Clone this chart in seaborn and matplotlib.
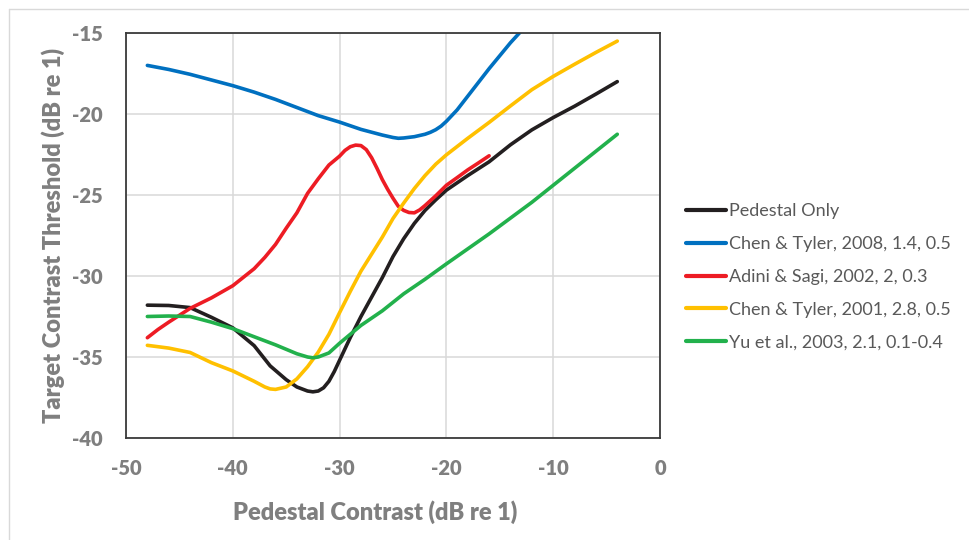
import matplotlib
matplotlib.use("Agg")
import matplotlib.pyplot as plt
from matplotlib.lines import Line2D
import seaborn as sns
import pandas as pd

# ---- data ----
series_names = ["Pedestal Only", "Chen & Tyler, 2008, 1.4, 0.5", "Adini & Sagi, 2002, 2, 0.3",
                "Chen & Tyler, 2001, 2.8, 0.5", "Yu et al., 2003, 2.1, 0.1-0.4"]
series_colors = ["#231F20", "#0070C0", "#ED1C24", "#FFC000", "#22B14C"]

pedestal_x = [-48, -46, -44, -42, -40, -38, -36.5, -35, -34, -33, -32.5, -32, -31.5, -31, -30.5, -30,
              -29, -28, -27, -26, -25, -24, -23, -22, -21, -20, -18, -16, -14, -12, -10, -8, -6, -4]
pedestal_y = [-31.8, -31.82, -31.95, -32.55, -33.2, -34.3, -35.55, -36.4, -36.85, -37.1, -37.15, -37.1,
              -36.9, -36.5, -35.9, -35.2, -33.8, -32.5, -31.3, -30.1, -28.8, -27.7, -26.75, -25.95,
              -25.3, -24.7, -23.8, -22.95, -21.9, -20.98, -20.22, -19.52, -18.77, -18.0]

chen08_x = [-48, -46, -44, -42, -40, -38, -36, -34, -32, -30, -28, -26, -25, -24.5, -24, -23, -22,
            -21.5, -21, -20.5, -20, -19, -18, -17, -16, -15, -14, -13, -12]
chen08_y = [-17.0, -17.25, -17.55, -17.9, -18.25, -18.65, -19.1, -19.6, -20.1, -20.5, -20.95, -21.3,
            -21.45, -21.5, -21.48, -21.4, -21.25, -21.13, -20.97, -20.75, -20.45, -19.75, -18.9,
            -18.05, -17.2, -16.4, -15.6, -14.88, -14.0]

adini_x = [-48, -47, -46, -44, -42, -40, -38, -37, -36, -35, -34, -33, -32, -31, -30, -29.5, -29, -28.5,
           -28, -27.5, -27, -26.5, -26, -25.5, -25, -24.5, -24, -23.5, -23, -22.5, -22, -21, -20, -19,
           -18, -17, -16]
adini_y = [-33.81, -33.3, -32.85, -32.0, -31.35, -30.6, -29.55, -28.85, -28.05, -27.05, -26.1, -24.9,
           -24.0, -23.15, -22.6, -22.25, -22.02, -21.92, -21.95, -22.2, -22.7, -23.35, -24.05, -24.65,
           -25.2, -25.7, -25.95, -26.08, -26.1, -25.92, -25.65, -25.05, -24.4, -23.93, -23.45, -23.02,
           -22.58]

chen01_x = [-48, -46, -44, -42, -40, -38, -37, -36.5, -36, -35, -34, -33, -32, -31, -30, -29, -28, -27,
            -26, -25, -24, -23, -22, -21, -20, -18, -16, -14, -12, -10, -8, -6, -4]
chen01_y = [-34.28, -34.45, -34.72, -35.35, -35.86, -36.5, -36.85, -36.97, -37.0, -36.85, -36.35,
            -35.6, -34.7, -33.6, -32.26, -30.95, -29.7, -28.65, -27.6, -26.45, -25.5, -24.6, -23.8,
            -23.1, -22.52, -21.5, -20.52, -19.5, -18.5, -17.68, -16.93, -16.2, -15.5]

yu_x = [-48, -46, -44, -42, -40, -38, -36, -34, -33, -32.5, -32, -31, -30, -28, -26, -24, -22, -20,
        -16, -12, -8, -4]
yu_y = [-32.5, -32.47, -32.5, -32.85, -33.25, -33.75, -34.25, -34.8, -35.0, -35.05, -35.0, -34.75,
        -34.15, -33.05, -32.15, -31.1, -30.2, -29.25, -27.4, -25.45, -23.35, -21.25]

x_ticks = [-50, -40, -30, -20, -10, 0]
y_ticks = [-40, -35, -30, -25, -20, -15]
x_label = "Pedestal Contrast (dB re 1)"
y_label = "Target Contrast Threshold (dB re 1)"

# ---- build long table ----
frames = []
for name, xs, ys in zip(series_names,
                        [pedestal_x, chen08_x, adini_x, chen01_x, yu_x],
                        [pedestal_y, chen08_y, adini_y, chen01_y, yu_y]):
    frames.append(pd.DataFrame({"x": xs, "y": ys, "series": name}))
df = pd.concat(frames, ignore_index=True)

sns.set_style("white")
plt.rcParams["font.family"] = ["Lato", "DejaVu Sans"]
plt.rcParams["axes.unicode_minus"] = False

fig = plt.figure(figsize=(9.69, 5.40), dpi=100)
W, H = 969, 540
ax = fig.add_axes([126 / W, 1 - 438 / H, (660 - 126) / W, (438 - 33) / H])

sns.lineplot(data=df, x="x", y="y", hue="series", hue_order=series_names,
             palette=dict(zip(series_names, series_colors)), sort=False, estimator=None,
             units="series", linewidth=2.6, ax=ax, legend=True)

ax.set_xlim(-50, 0)
ax.set_ylim(-40, -15)
ax.set_xticks(x_ticks)
ax.set_yticks(y_ticks)
ax.grid(True, color="#D9D9D9", linewidth=1.1)
ax.set_axisbelow(True)
for s in ax.spines.values():
    s.set_visible(True)
    s.set_color("#3A3A3A")
    s.set_linewidth(1.3)
ax.tick_params(axis="both", length=0, labelsize=14.5, labelcolor="#7F7F7F")
ax.tick_params(axis="x", pad=15)
ax.tick_params(axis="y", pad=17)
for lab in ax.get_xticklabels() + ax.get_yticklabels():
    lab.set_fontweight("heavy")

ax.set_xlabel(x_label, fontsize=17, fontweight="heavy", color="#7F7F7F")
ax.set_ylabel(y_label, fontsize=17, fontweight="heavy", color="#7F7F7F")
ax.xaxis.set_label_coords((375 - 126) / (660 - 126), -(500 - 438) / (438 - 33))
ax.yaxis.set_label_coords(-(126 - 65) / (660 - 126), 0.5)

handles, labels = ax.get_legend_handles_labels()
ax.legend(handles, labels, loc="center left", bbox_to_anchor=(686 / W, 1 - 277 / H),
          bbox_transform=fig.transFigure, frameon=False, fontsize=13, handlelength=2.2,
          handletextpad=0.2, labelspacing=0.93, borderpad=0, borderaxespad=0,
          labelcolor="#595959")
for h in ax.get_legend().get_lines():
    h.set_linewidth(3.0)

# outer chart-area border (top and left visible)
fig.add_artist(Line2D([9 / W, 1], [1 - 8.5 / H, 1 - 8.5 / H], color="#D9D9D9", lw=1.0,
                      transform=fig.transFigure))
fig.add_artist(Line2D([9 / W, 9 / W], [0, 1 - 8.5 / H], color="#D9D9D9", lw=1.0,
                      transform=fig.transFigure))

fig.savefig("out.png", dpi=100, facecolor="white")
